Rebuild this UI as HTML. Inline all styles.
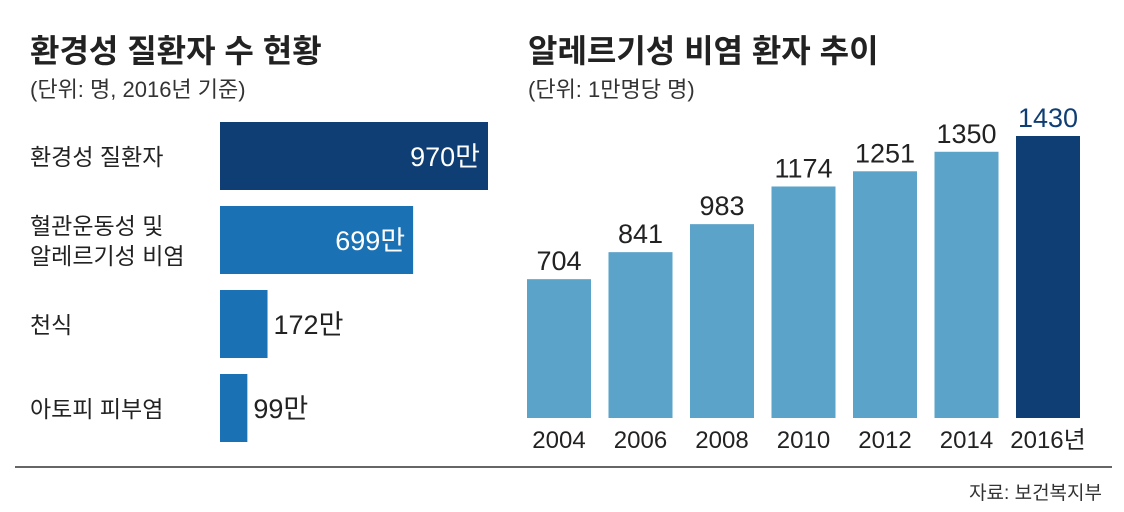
<!DOCTYPE html>
<html><head><meta charset="utf-8">
<style>
html,body{margin:0;padding:0;background:#fff;}
body{width:1124px;height:512px;position:relative;overflow:hidden;font-family:"Liberation Sans","Noto Sans CJK KR",sans-serif;color:#222;}
.t{position:absolute;white-space:nowrap;}
</style></head>
<body>
<div class="t" style="left:30px;top:26px;font-size:32px;font-weight:bold;">환경성 질환자 수 현황</div>
<div class="t" style="left:30px;top:72px;font-size:22px;color:#333;">(단위: 명, 2016년 기준)</div>
<div class="t" style="left:528px;top:26px;font-size:32px;font-weight:bold;">알레르기성 비염 환자 추이</div>
<div class="t" style="left:528px;top:72px;font-size:22px;color:#333;">(단위: 1만명당 명)</div>
<svg id="c" width="1124" height="512" style="position:absolute;left:0;top:0"></svg>
<div class="t" style="right:22px;top:478px;font-size:19px;color:#333;">자료: 보건복지부</div>
<script>
const hCats=[["환경성 질환자"],["혈관운동성 및","알레르기성 비염"],["천식"],["아토피 피부염"]];
const hVals=[970,699,172,99];
const hLabels=["970만","699만","172만","99만"];
const vCats=["2004","2006","2008","2010","2012","2014","2016년"];
const vVals=[704,841,983,1174,1251,1350,1430];
const NS="http://www.w3.org/2000/svg";
const svg=document.getElementById('c');
function mk(t,a,txt){const e=document.createElementNS(NS,t);for(const k in a)e.setAttribute(k,a[k]);if(txt!=null)e.textContent=txt;svg.appendChild(e);return e;}
// horizontal chart
const hx=v=>v*(268/970);
const hY=i=>122+i*84;
hVals.forEach((v,i)=>{
  const r=mk('rect',{x:220,y:hY(i),width:hx(v),height:68,fill:i==0?'#0f3e74':'#1a72b4'});
  
  
  const inside=hx(v)>150;
  const t=mk('text',{x:inside?220+hx(v)-8:220+hx(v)+6,y:hY(i)+44,'font-size':27,'text-anchor':inside?'end':'start',fill:inside?'#fff':'#222','font-family':'Liberation Sans,Noto Sans CJK KR,sans-serif'},hLabels[i]);
  
  
  const lines=hCats[i];
  lines.forEach((ln,j)=>{
    const c=mk('text',{x:30,y:hY(i)+34+(j-(lines.length-1)/2)*30+9,'font-size':23,fill:'#222','font-family':'Liberation Sans,Noto Sans CJK KR,sans-serif'},ln);
    
    
  });
});
// vertical chart
const base=418;
const vy=v=>base-v*(282/1430);
const vx=i=>527+i*81.5;
vVals.forEach((v,i)=>{
  const last=i==vVals.length-1;
  const r=mk('rect',{x:vx(i),y:vy(v),width:64,height:base-vy(v),fill:last?'#0f3e74':'#5ba3c9'});
  
  
  const t=mk('text',{x:vx(i)+32,y:vy(v)-9,'font-size':27,'text-anchor':'middle',fill:last?'#0f3e74':'#222','font-family':'Liberation Sans,sans-serif'},String(v));
  
  
  const c=mk('text',{x:vx(i)+32,y:448,'font-size':24,'text-anchor':'middle',fill:'#222','font-family':'Liberation Sans,Noto Sans CJK KR,sans-serif'},vCats[i]);
  
  
});
const ln=mk('line',{x1:15,x2:1112,y1:467,y2:467,stroke:'#333','stroke-width':1.5});


</script>
</body></html>
